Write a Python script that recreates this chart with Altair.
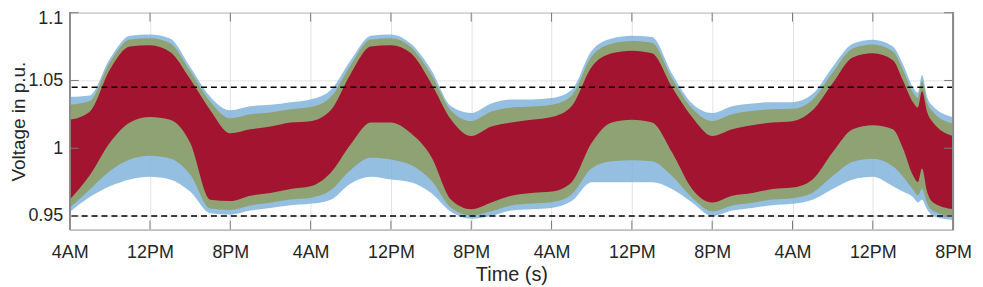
import altair as alt
import pandas as pd

# Time in hours from the first 4AM tick
hours = [0, 2, 4, 6, 8, 10, 12, 14, 16, 18, 20, 22, 24, 26, 28, 30, 32, 34, 36, 38,
         40, 42, 44, 46, 48, 50, 52, 54, 56, 58, 60, 62, 64, 66, 68, 70, 72, 74, 76,
         78, 80, 82, 83, 84, 84.5, 84.9, 85.4, 86, 88]
# Envelope of all traces (top of the coloured fringe)
upper_outer = [1.038, 1.039, 1.066, 1.083, 1.084, 1.081, 1.060, 1.038, 1.028, 1.031,
               1.032, 1.034, 1.036, 1.043, 1.065, 1.083, 1.084, 1.077, 1.058, 1.031,
               1.026, 1.033, 1.036, 1.036, 1.037, 1.043, 1.072, 1.081, 1.083, 1.082,
               1.055, 1.033, 1.026, 1.031, 1.033, 1.034, 1.034, 1.040, 1.060, 1.077,
               1.080, 1.075, 1.062, 1.045, 1.041, 1.054, 1.038, 1.031, 1.023]
# Top of the dense dark-red band
upper_red = [1.021, 1.027, 1.058, 1.075, 1.076, 1.071, 1.051, 1.028, 1.011, 1.014,
             1.016, 1.019, 1.020, 1.028, 1.055, 1.075, 1.076, 1.070, 1.048, 1.021,
             1.009, 1.016, 1.019, 1.021, 1.023, 1.031, 1.060, 1.070, 1.072, 1.070,
             1.045, 1.023, 1.009, 1.014, 1.017, 1.019, 1.020, 1.028, 1.048, 1.067,
             1.070, 1.065, 1.050, 1.034, 1.030, 1.042, 1.027, 1.019, 1.009]
# Bottom of the dense dark-red band
lower_red = [0.962, 0.980, 1.004, 1.019, 1.023, 1.021, 1.004, 0.962, 0.961, 0.965,
             0.967, 0.970, 0.972, 0.982, 1.003, 1.019, 1.019, 1.011, 0.994, 0.962,
             0.955, 0.960, 0.965, 0.967, 0.968, 0.975, 1.004, 1.019, 1.021, 1.019,
             0.997, 0.970, 0.960, 0.965, 0.967, 0.970, 0.971, 0.977, 0.997, 1.014,
             1.017, 1.014, 1.000, 0.980, 0.975, 0.985, 0.968, 0.960, 0.955]
# Envelope of all traces (bottom of the coloured fringe)
lower_outer = [0.953, 0.964, 0.972, 0.977, 0.979, 0.977, 0.968, 0.952, 0.951, 0.954,
               0.956, 0.958, 0.959, 0.962, 0.974, 0.979, 0.977, 0.975, 0.967, 0.953,
               0.948, 0.950, 0.954, 0.955, 0.956, 0.961, 0.975, 0.975, 0.975, 0.975,
               0.970, 0.960, 0.950, 0.954, 0.956, 0.958, 0.959, 0.962, 0.970, 0.977,
               0.979, 0.972, 0.968, 0.964, 0.960, 0.962, 0.955, 0.950, 0.947]

tick_hours = [0, 8, 16, 24, 32, 40, 48, 56, 64, 72, 80, 88]
tick_labels = ["4AM", "12PM", "8PM"]
y_ticks = [0.95, 1.0, 1.05, 1.1]
limit_values = [0.95, 1.045]

df = pd.DataFrame({"h": hours, "uo": upper_outer, "ur": upper_red,
                   "lr": lower_red, "lo": lower_outer})
ticks_x = pd.DataFrame({"h": tick_hours})
ticks_y = pd.DataFrame({"v": y_ticks})
limits = pd.DataFrame({"v": limit_values})

W, H = 888, 218
FONT = "Liberation Sans"
TXT = "#262626"

xs = alt.Scale(domain=[0, 88], nice=False, zero=False)
ys = alt.Scale(domain=[0.94, 1.1], nice=False, zero=False)

label_arr = "[" + ",".join("'%s'" % t for t in tick_labels) + "]"

x_axis = alt.Axis(values=tick_hours, grid=True, gridColor="#E3E3E3", domain=False,
                  tickSize=0, labelPadding=14, labelFontSize=18, labelFont=FONT,
                  labelColor=TXT, labelFlush=False,
                  labelExpr=label_arr + "[round(datum.value/8)%3]",
                  title="Time (s)", titleFont=FONT, titleFontSize=20,
                  titleFontWeight="normal", titleColor=TXT,
                  titleBaseline="alphabetic", titleY=51)
y_axis = alt.Axis(values=y_ticks, grid=True, gridColor="#E3E3E3", domain=False,
                  tickSize=0, labelPadding=7, labelFontSize=18, labelFont=FONT,
                  labelColor=TXT, labelFlush=True, labelFlushOffset=3,
                  labelExpr="format(datum.value, '~g')",
                  title="Voltage in p.u.", titleFont=FONT, titleFontSize=19,
                  titleFontWeight="normal", titleColor=TXT,
                  titleBaseline="alphabetic", titleX=-45)

base = alt.Chart(df)

outer = base.mark_area(color="#7AAFD8", opacity=0.8, interpolate="monotone").encode(
    x=alt.X("h:Q", scale=xs, axis=x_axis),
    y=alt.Y("lo:Q", scale=ys, axis=y_axis),
    y2="uo:Q",
)
mid = base.transform_calculate(
    mlo="datum.lo + 0.35*(datum.lr - datum.lo)",
    mhi="datum.uo - 0.35*(datum.uo - datum.ur)",
).mark_area(color="#8E9F68", opacity=0.9, interpolate="monotone").encode(
    x=alt.X("h:Q", scale=xs),
    y=alt.Y("mlo:Q", scale=ys),
    y2="mhi:Q",
)
red = base.mark_area(color="#A2142F", interpolate="monotone").encode(
    x=alt.X("h:Q", scale=xs),
    y=alt.Y("lr:Q", scale=ys),
    y2="ur:Q",
)
dash = alt.Chart(limits).mark_rule(color="black", strokeWidth=1.5,
                                   strokeDash=[6, 4]).encode(
    y=alt.Y("v:Q", scale=ys))

TC = "#7A7A7A"
xt_top = alt.Chart(ticks_x).mark_rule(color=TC).encode(
    x=alt.X("h:Q", scale=xs), y=alt.value(0), y2=alt.value(9))
xt_bot = alt.Chart(ticks_x).mark_rule(color=TC).encode(
    x=alt.X("h:Q", scale=xs), y=alt.value(H - 9), y2=alt.value(H))
yt_l = alt.Chart(ticks_y).mark_rule(color=TC).encode(
    y=alt.Y("v:Q", scale=ys), x=alt.value(0), x2=alt.value(9))
yt_r = alt.Chart(ticks_y).mark_rule(color=TC).encode(
    y=alt.Y("v:Q", scale=ys), x=alt.value(W - 9), x2=alt.value(W))

box_l = alt.Chart(ticks_x).mark_rule(color="#8C8C8C").encode(
    x=alt.value(0), y=alt.value(0), y2=alt.value(H))
box_r = alt.Chart(ticks_x).mark_rule(color="#8C8C8C").encode(
    x=alt.value(W), y=alt.value(0), y2=alt.value(H))

chart = alt.layer(outer, mid, red, dash, xt_top, xt_bot, yt_l, yt_r, box_l, box_r).properties(
    width=W, height=H,
    autosize=alt.AutoSizeParams(type="none"),
    padding={"left": 62, "top": 4, "right": 22, "bottom": 56},
).configure_view(stroke="#8C8C8C", strokeWidth=1)

chart.save("out.html", embed_options={"renderer": "svg", "actions": False})
